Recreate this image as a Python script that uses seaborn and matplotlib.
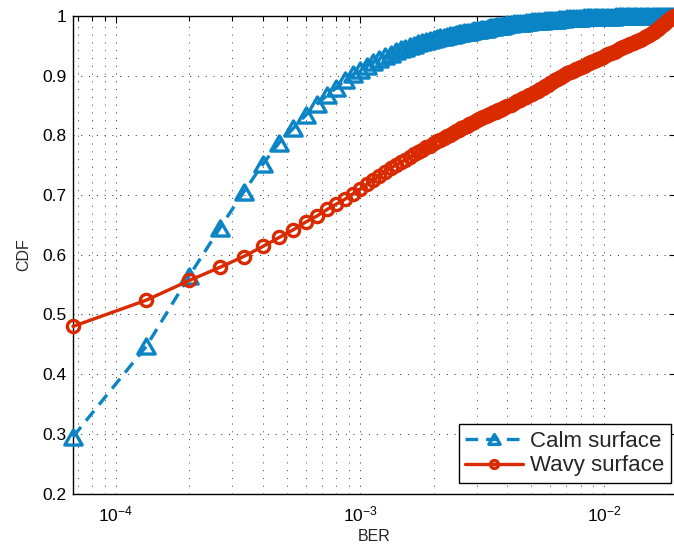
import numpy as np
import pandas as pd
import matplotlib
matplotlib.use("Agg")
import matplotlib.pyplot as plt
from matplotlib.markers import MarkerStyle
from matplotlib.path import Path
from matplotlib.ticker import LogLocator, NullFormatter, FixedLocator, FixedFormatter
import seaborn as sns

# Bit-error counts observed per frame and the frame length in bits
N_BITS = 15000
bit_errors = [
    1, 2, 3, 4, 5, 6, 7, 8, 9, 10,
    11, 12, 13, 14, 15, 16, 17, 18, 19, 20,
    21, 22, 23, 24, 25, 26, 27, 28, 29, 30,
    31, 32, 33, 34, 35, 36, 37, 38, 39, 40,
    41, 42, 43, 44, 45, 46, 47, 48, 49, 50,
    51, 52, 53, 54, 55, 56, 57, 58, 59, 60,
    62, 64, 66, 68, 70, 72, 74, 76, 78, 80,
    82, 84, 86, 88, 90, 92, 94, 96, 98, 100,
    103, 106, 109, 112, 115, 118, 121, 124, 127, 130, 133, 136, 139, 142, 145, 148,
    152, 156, 160, 164, 168, 172, 176, 180, 184, 188, 192, 196, 200,
    205, 210, 215, 220, 225, 230, 235, 240, 245, 250, 255, 260, 265, 270, 275, 280, 285, 290,
]

# Empirical CDF of the BER for each surface condition
cdf_calm = [
    0.295, 0.447, 0.565, 0.645, 0.705, 0.752, 0.788, 0.812, 0.834, 0.853,
    0.867, 0.880, 0.892, 0.902, 0.910, 0.917, 0.923, 0.928, 0.933, 0.937,
    0.941, 0.944, 0.947, 0.950, 0.952, 0.954, 0.956, 0.958, 0.960, 0.961,
    0.963, 0.964, 0.965, 0.967, 0.968, 0.969, 0.970, 0.971, 0.972, 0.973,
    0.973, 0.974, 0.975, 0.976, 0.977, 0.977, 0.978, 0.979, 0.979, 0.980,
    0.981, 0.981, 0.982, 0.983, 0.983, 0.984, 0.984, 0.985, 0.985, 0.986,
    0.987, 0.988, 0.988, 0.989, 0.989, 0.990, 0.990, 0.991, 0.991, 0.992,
    0.992, 0.992, 0.993, 0.993, 0.993, 0.994, 0.994, 0.994, 0.995, 0.995,
    0.995, 0.996, 0.996, 0.997, 0.997, 0.997, 0.997, 0.998, 0.998, 0.998, 0.998, 0.998, 0.999, 0.999, 0.999, 0.999,
    0.999, 0.999, 0.999, 0.999, 1.000, 1.000, 1.000, 1.000, 1.000, 1.000, 1.000, 1.000, 1.000,
    1.000, 1.000, 1.000, 1.000, 1.000, 1.000, 1.000, 1.000, 1.000, 1.000, 1.000, 1.000, 1.000, 1.000, 1.000, 1.000, 1.000, 1.000,
]
cdf_wavy = [
    0.480, 0.524, 0.557, 0.579, 0.597, 0.614, 0.629, 0.642, 0.655, 0.665,
    0.676, 0.685, 0.693, 0.702, 0.710, 0.718, 0.725, 0.732, 0.739, 0.745,
    0.750, 0.755, 0.759, 0.764, 0.768, 0.772, 0.776, 0.780, 0.783, 0.787,
    0.790, 0.793, 0.796, 0.799, 0.801, 0.804, 0.807, 0.809, 0.812, 0.814,
    0.816, 0.819, 0.820, 0.822, 0.825, 0.827, 0.829, 0.830, 0.832, 0.834,
    0.835, 0.837, 0.839, 0.840, 0.842, 0.843, 0.845, 0.846, 0.848, 0.849,
    0.851, 0.854, 0.857, 0.859, 0.862, 0.865, 0.868, 0.870, 0.873, 0.875,
    0.878, 0.880, 0.883, 0.885, 0.887, 0.889, 0.892, 0.894, 0.896, 0.898,
    0.901, 0.904, 0.906, 0.908, 0.911, 0.913, 0.915, 0.917, 0.919, 0.921, 0.923, 0.925, 0.927, 0.928, 0.930, 0.932,
    0.934, 0.936, 0.938, 0.940, 0.942, 0.944, 0.946, 0.948, 0.950, 0.951, 0.953, 0.955, 0.956,
    0.958, 0.960, 0.962, 0.965, 0.967, 0.969, 0.972, 0.974, 0.977, 0.979, 0.982, 0.985, 0.987, 0.990, 0.993, 0.995, 0.998, 1.000,
]

series_labels = ["Calm surface", "Wavy surface"]
cdf_ticks = [0.2, 0.3, 0.4, 0.5, 0.6, 0.7, 0.8, 0.9, 1.0]
cdf_tick_labels = ["0.2", "0.3", "0.4", "0.5", "0.6", "0.7", "0.8", "0.9", "1"]
ber_limits = (1 / N_BITS, 0.0196)
cdf_limits = (0.2, 1.0)

BLUE = "#0B84C6"
RED = "#D92A00"

sns.set_style("white")
plt.rcParams["font.family"] = ["Liberation Sans", "DejaVu Sans"]
plt.rcParams["mathtext.fontset"] = "custom"
plt.rcParams["mathtext.rm"] = "Liberation Sans"
plt.rcParams["mathtext.it"] = "Liberation Sans"
plt.rcParams["mathtext.default"] = "regular"

ber = np.asarray(bit_errors, dtype=float) / N_BITS
df = pd.DataFrame({"ber": ber, "calm": cdf_calm, "wavy": cdf_wavy})

fig = plt.figure(figsize=(6.74, 5.48), dpi=100)
ax = fig.add_axes([73 / 674, 54.5 / 548, 602.5 / 674, 477.5 / 548])

# Wide open triangle marker
tri_path = Path([(0, 1), (-1.15, -1), (1.15, -1), (0, 1)],
                [Path.MOVETO, Path.LINETO, Path.LINETO, Path.CLOSEPOLY])
tri_marker = MarkerStyle(tri_path, joinstyle="miter")

common = dict(ax=ax, estimator=None, sort=False, errorbar=None,
              linewidth=2.4, markeredgewidth=2.4, markerfacecolor="none",
              clip_on=False)

sns.lineplot(data=df, x="ber", y="calm", color=BLUE, marker=tri_marker,
             markersize=12.5, markeredgecolor=BLUE, linestyle=(0, (3.8, 2.4)),
             label=series_labels[0], zorder=3, **common)
sns.lineplot(data=df, x="ber", y="wavy", color=RED, marker="o",
             markersize=8.8, markeredgecolor=RED, linestyle="-",
             label=series_labels[1], zorder=4, **common)

ax.set_xscale("log")
ax.set_xlim(*ber_limits)
ax.set_ylim(*cdf_limits)

ax.xaxis.set_major_locator(LogLocator(base=10, numticks=10))
ax.xaxis.set_minor_locator(LogLocator(base=10, subs=np.arange(2, 10), numticks=20))
ax.xaxis.set_minor_formatter(NullFormatter())
ax.yaxis.set_major_locator(FixedLocator(cdf_ticks))
ax.yaxis.set_major_formatter(FixedFormatter(cdf_tick_labels))

ax.tick_params(axis="both", which="both", direction="in", top=True, right=True,
               colors="black", width=0.8)
ax.tick_params(axis="both", which="major", length=5, labelsize=12.5)
ax.tick_params(axis="x", which="minor", length=3.5)
ax.tick_params(axis="x", which="major", pad=8)
ax.tick_params(axis="y", which="major", pad=4.5)

ax.grid(True, which="major", axis="both", color="#222222", linewidth=0.7,
        linestyle=(0, (1, 7)))
ax.grid(True, which="minor", axis="x", color="#444444", linewidth=0.7,
        linestyle=(0, (1, 7)))
ax.set_axisbelow(True)

for side in ["left", "bottom", "top", "right"]:
    ax.spines[side].set_visible(True)
    ax.spines[side].set_color("black")
    ax.spines[side].set_linewidth(1.0)

ax.set_xlabel("BER", fontsize=11.5, labelpad=3)
ax.set_ylabel("CDF", fontsize=11.5, labelpad=8)

leg = ax.legend(loc="lower right", bbox_to_anchor=(0.992, 0.022),
                borderaxespad=0, fontsize=16, frameon=True, fancybox=False,
                edgecolor="black", framealpha=1, borderpad=0.3,
                labelspacing=0.15, handlelength=2.6, handletextpad=0.3,
                markerscale=0.65)
leg.get_frame().set_linewidth(1.0)

fig.savefig("out.png", dpi=100)
